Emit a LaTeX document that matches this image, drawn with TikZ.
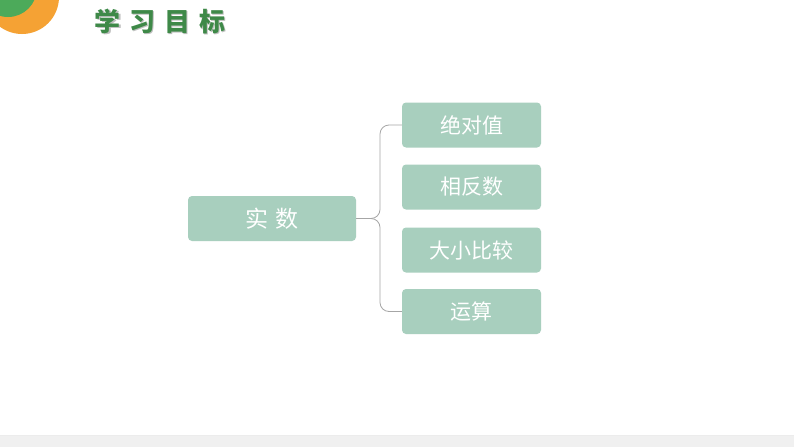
\documentclass[tikz,border=0pt]{standalone}
\usepackage{fontspec}
\newfontfamily\cjk{Noto Sans CJK SC}
\usetikzlibrary{positioning}
\definecolor{sage}{RGB}{168,207,190}
\definecolor{titlegreen}{RGB}{62,137,72}
\definecolor{ringorange}{RGB}{245,162,52}
\definecolor{ringgreen}{RGB}{76,170,90}
\definecolor{bargray}{RGB}{240,240,240}
\newcommand{\tgap}{\hspace{9pt}}

\begin{document}
\begin{tikzpicture}[x=1pt,y=-1pt,
    topic/.style={rectangle, rounded corners=4pt, fill=sage, text=white,
        minimum width=139pt, minimum height=45pt, inner sep=0pt,
        font=\cjk\fontsize{21}{21}\selectfont},
    root/.style={topic, minimum width=168pt, font=\cjk\fontsize{23}{23}\selectfont},
    heading/.style={font=\cjk\bfseries\fontsize{26}{26}\selectfont},
    link/.style={draw=gray!70, line width=0.8pt, rounded corners=9pt}
]
    \useasboundingbox (0,0) rectangle (794,447);
    \fill[white] (0,0) rectangle (794,447);
    % corner badge
    \begin{scope}
        \clip (0,0) rectangle (794,447);
        \fill[ringorange] (22,-3) circle (37);
        \fill[ringgreen] (8,-12) circle (29);
    \end{scope}
    % title
    \node[heading, text=gray!50] at (161.5,22.5) {学\tgap 习\tgap 目\tgap 标};
    \node[heading, text=titlegreen] (title) at (160,21) {学\tgap 习\tgap 目\tgap 标};
    % bottom bar
    \fill[bargray] (0,435) rectangle (794,447);
    \draw[gray!15] (0,435) -- (794,435);

    \node[root] (shi) at (272,218.5) {实\,\,数};
    \node[topic] (abs) at (471.5,125) {绝对值};
    \node[topic] (opp) at (471.5,187) {相反数};
    \node[topic] (cmp) at (471.5,250) {大小比较};
    \node[topic] (ops) at (471.5,311.5) {运算};

    \coordinate (fork) at (380,218.5);
    \draw[link] (shi.east) -- (fork) |- (abs.west);
    \draw[link] (shi.east) -- (fork) |- (ops.west);
\end{tikzpicture}
\end{document}
